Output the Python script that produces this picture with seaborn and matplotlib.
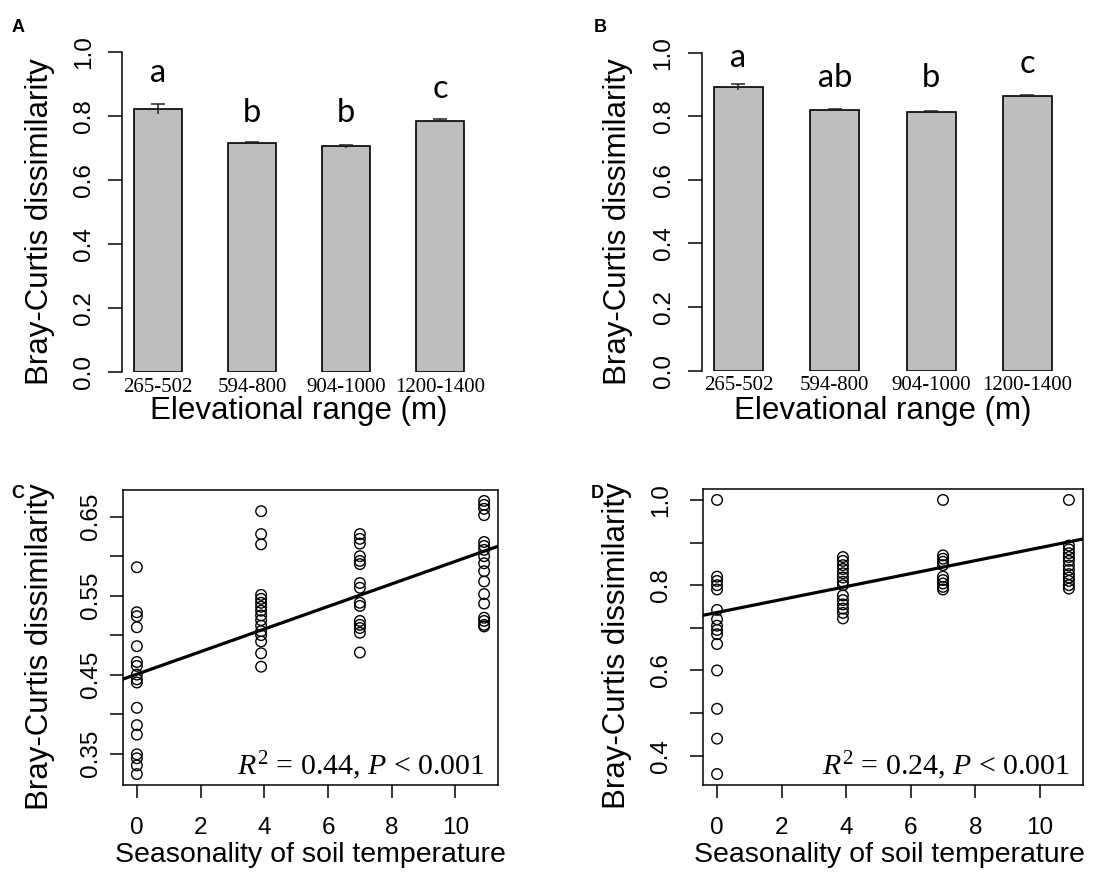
import matplotlib
matplotlib.use('Agg')
import matplotlib.pyplot as plt
import numpy as np
import pandas as pd
import seaborn as sns

# ---- data ----
elev_ranges = ["265-502", "594-800", "904-1000", "1200-1400"]

a_means = [0.822, 0.715, 0.705, 0.785]
a_errs = [0.015, 0.004, 0.004, 0.004]
a_letters = ["a", "b", "b", "c"]

b_means = [0.891, 0.821, 0.814, 0.865]
b_errs = [0.010, 0.003, 0.002, 0.003]
b_letters = ["a", "ab", "b", "c"]

seasonality = [0, 3.9, 7.0, 10.9]

c_at_0 = [0.586, 0.529, 0.524, 0.510, 0.486, 0.466, 0.461, 0.450, 0.444,
          0.440, 0.408, 0.386, 0.374, 0.349, 0.344, 0.335, 0.324]
c_at_4 = [0.657, 0.628, 0.615, 0.551, 0.546, 0.541, 0.536, 0.531, 0.525,
          0.519, 0.512, 0.505, 0.500, 0.492, 0.477, 0.460]
c_at_7 = [0.628, 0.622, 0.616, 0.600, 0.594, 0.590, 0.566, 0.560, 0.541,
          0.537, 0.518, 0.513, 0.509, 0.503, 0.478]
c_at_11 = [0.670, 0.665, 0.660, 0.652, 0.618, 0.613, 0.608, 0.600, 0.591,
           0.581, 0.568, 0.552, 0.540, 0.522, 0.518, 0.513, 0.511]

d_at_0 = [1.0, 0.820, 0.810, 0.800, 0.790, 0.742, 0.720, 0.705, 0.695,
          0.685, 0.662, 0.600, 0.510, 0.440, 0.357]
d_at_4 = [0.866, 0.857, 0.847, 0.838, 0.828, 0.818, 0.808, 0.800, 0.776,
          0.765, 0.755, 0.745, 0.735, 0.722]
d_at_7 = [1.0, 0.870, 0.862, 0.855, 0.847, 0.820, 0.812, 0.804, 0.796, 0.790]
d_at_11 = [1.0, 0.893, 0.884, 0.875, 0.866, 0.857, 0.846, 0.836, 0.826,
           0.818, 0.810, 0.800, 0.792]

# fitted lines (intercept, slope) and stats text
c_fit = (0.4505, 0.0143)
d_fit = (0.736, 0.0152)
c_stats = r"$R^{2}$ = 0.44, $P$ < 0.001"
d_stats = r"$R^{2}$ = 0.24, $P$ < 0.001"


def long_table(groups):
    xs, ys = [], []
    for x, vals in zip(seasonality, groups):
        xs += [x] * len(vals)
        ys += vals
    return pd.DataFrame({"season": xs, "bc": ys})


c_df = long_table([c_at_0, c_at_4, c_at_7, c_at_11])
d_df = long_table([d_at_0, d_at_4, d_at_7, d_at_11])

sns.set_style("ticks")
plt.rcParams['font.family'] = ['Liberation Sans', 'DejaVu Sans']
plt.rcParams['mathtext.fontset'] = 'custom'
plt.rcParams['mathtext.rm'] = 'Liberation Serif'
plt.rcParams['mathtext.it'] = 'Liberation Serif:italic'
for k in ['text.color', 'axes.labelcolor', 'xtick.color', 'ytick.color',
          'axes.edgecolor']:
    plt.rcParams[k] = 'black'

fig = plt.figure(figsize=(10.96, 8.73), dpi=100)

YLABEL = "Bray-Curtis dissimilarity"
LABEL_SIZE = 22.5
TICK_SIZE = 17.5


def bar_panel(rect, means, errs, letters, letter_y, xl):
    ax = fig.add_axes(rect)
    df = pd.DataFrame({"range": elev_ranges, "mean": means})
    sns.barplot(data=df, x="range", y="mean", color="#BEBEBE", saturation=1,
                edgecolor="black", linewidth=1.2, width=0.51, errorbar=None, ax=ax)
    eb = ax.errorbar(range(len(means)), means, yerr=errs, fmt="none",
                     ecolor="#222222", elinewidth=1.1, capsize=5, capthick=1.1)
    eb[1][0].set_visible(False)  # R draws only the upper cap
    for i, (lab, ly) in enumerate(zip(letters, letter_y)):
        ax.text(i, ly, lab, ha="center", va="baseline", fontsize=23.5,
                family="Lato", clip_on=False)
    ax.set_xlim(*xl)
    ax.set_ylim(0, 1.0)
    ax.set_yticks([0, 0.2, 0.4, 0.6, 0.8, 1.0])
    ax.set_yticklabels(["0.0", "0.2", "0.4", "0.6", "0.8", "1.0"])
    for s in ["top", "right", "bottom"]:
        ax.spines[s].set_visible(False)
    ax.spines["left"].set_linewidth(1.1)
    ax.tick_params(axis="y", length=10, width=1.1, pad=9.5, labelsize=TICK_SIZE,
                   labelrotation=90)
    for t in ax.get_yticklabels():
        t.set_va("center")
    ax.tick_params(axis="x", length=0, pad=4, labelsize=15)
    for t in ax.get_xticklabels():
        t.set_family("Liberation Serif")
    ax.set_ylabel(YLABEL, fontsize=LABEL_SIZE, va="center")
    ax.set_xlabel("Elevational range (m)", fontsize=LABEL_SIZE, va="center")
    return ax


def scatter_panel(rect, df, fit, stats, yticks, ylabels, ypad):
    ax = fig.add_axes(rect)
    sns.scatterplot(data=df, x="season", y="bc", marker="o", s=58,
                    facecolor="none", edgecolor="black", linewidth=1.0, ax=ax)
    ax.axline((0, fit[0]), slope=fit[1], color="black", lw=2.3)
    ax.margins(0.04)
    ax.autoscale_view()
    ax.set_xticks([0, 2, 4, 6, 8, 10])
    ax.set_yticks(yticks)
    ax.set_yticklabels(ylabels)
    for s in ax.spines.values():
        s.set_linewidth(1.1)
        s.set_color("black")
    ax.tick_params(axis="x", length=9.4, width=1.1, pad=13.5, labelsize=TICK_SIZE)
    ax.tick_params(axis="y", length=9.4, width=1.1, pad=ypad, labelsize=TICK_SIZE,
                   labelrotation=90)
    for t in ax.get_yticklabels():
        t.set_va("center")
    ax.text(0.965, 0.034, stats, transform=ax.transAxes, ha="right",
            va="baseline", fontsize=21.5, family="Liberation Serif")
    ax.set_ylabel(YLABEL, fontsize=LABEL_SIZE, va="center")
    ax.set_xlabel("Seasonality of soil temperature", fontsize=20.5, va="center")
    return ax


ax_a = bar_panel([0.1113, 0.5739, 0.3227, 0.3666], a_means, a_errs, a_letters,
                 [0.907, 0.782, 0.782, 0.855], (-0.383, 3.38))
ax_a.yaxis.set_label_coords(-0.232, 0.47)
ax_a.xaxis.set_label_coords(0.5, -0.122)

ax_b = bar_panel([0.6402, 0.5754, 0.3306, 0.3643], b_means, b_errs, b_letters,
                 [0.956, 0.891, 0.891, 0.935], (-0.382, 3.38))
ax_b.yaxis.set_label_coords(-0.231, 0.47)
ax_b.xaxis.set_label_coords(0.5, -0.127)

ax_c = scatter_panel([0.1122, 0.1008, 0.3422, 0.3379], c_df, c_fit, c_stats,
                     [0.35, 0.40, 0.45, 0.50, 0.55, 0.60, 0.65],
                     ["0.35", "", "0.45", "", "0.55", "", "0.65"], 6)
ax_c.yaxis.set_label_coords(-0.221, 0.47)
ax_c.xaxis.set_label_coords(0.5, -0.238)

ax_d = scatter_panel([0.6414, 0.1008, 0.3467, 0.3391], d_df, d_fit, d_stats,
                     [0.4, 0.5, 0.6, 0.7, 0.8, 0.9, 1.0],
                     ["0.4", "", "0.6", "", "0.8", "", "1.0"], 13)
ax_d.yaxis.set_label_coords(-0.226, 0.47)
ax_d.xaxis.set_label_coords(0.49, -0.237)

# panel letters
for lab, x, y in [("A", 18, 27), ("B", 600, 27), ("C", 18, 493), ("D", 597, 493)]:
    fig.text(x / 1096, 1 - y / 873, lab, ha="center", va="center",
             fontsize=13, fontweight="bold")

fig.savefig("out.png", dpi=100)
plt.close(fig)
